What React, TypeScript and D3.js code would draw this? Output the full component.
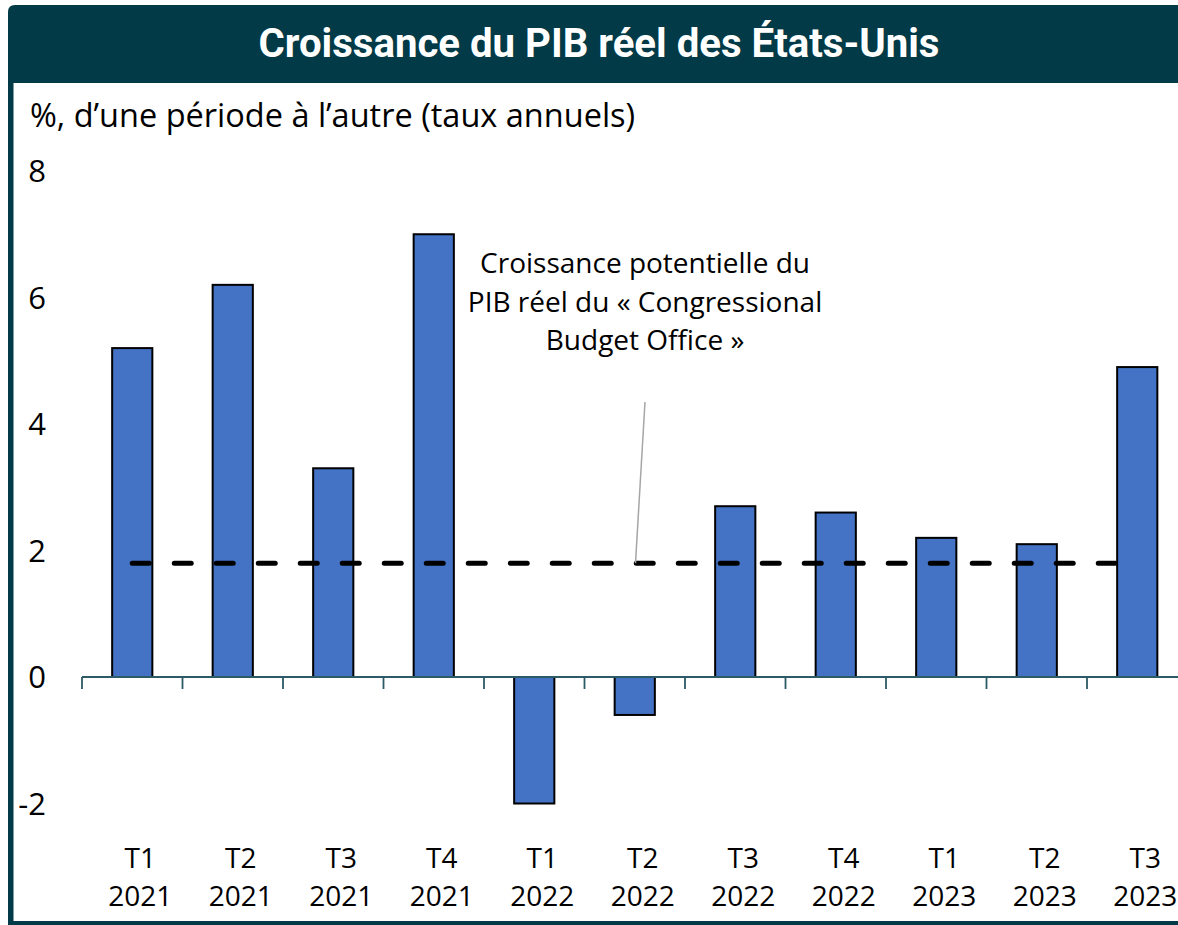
import React from "react";
import * as d3 from "d3";

const categories = ["T1 2021", "T2 2021", "T3 2021", "T4 2021", "T1 2022", "T2 2022", "T3 2022", "T4 2022", "T1 2023", "T2 2023", "T3 2023"];
const quarterLabels = ["T1", "T2", "T3", "T4", "T1", "T2", "T3", "T4", "T1", "T2", "T3"];
const yearLabels = ["2021", "2021", "2021", "2021", "2022", "2022", "2022", "2022", "2023", "2023", "2023"];
const gdpGrowth = [5.2, 6.2, 3.3, 7.0, -2.0, -0.6, 2.7, 2.6, 2.2, 2.1, 4.9];
const cboPotential = [1.8, 1.8, 1.8, 1.8, 1.8, 1.8, 1.8, 1.8, 1.8, 1.8, 1.8];
const yTicks = [8, 6, 4, 2, 0, -2];

const TITLE = "Croissance du PIB réel des États-Unis";
const SUBTITLE = "%, d\u2019une période à l\u2019autre (taux annuels)";
const ANNOT = ["Croissance potentielle du", "PIB réel du « Congressional", "Budget Office »"];

const W = 1178;
const H = 925;
const DARK = "#023a47";
const FONT = "'Open Sans', 'Noto Sans', sans-serif";

export default function App() {
  const step = 100.5;
  const x0 = 82;
  const x = d3
    .scaleBand<string>()
    .domain(categories)
    .range([x0, x0 + step * categories.length])
    .paddingInner(0.6)
    .paddingOuter(0.3);
  const y = d3.scaleLinear().domain([-2, 8]).range([803.5, 171]);

  const bw = x.bandwidth();
  const st = x.step();
  const cx = (c: string) => (x(c) as number) + bw / 2;

  const line = d3
    .line<number>()
    .x((_, i) => cx(categories[i]))
    .y((d) => y(d));

  const boundaries = categories.map((c) => (x(c) as number) - st * 0.3);
  boundaries.push(boundaries[boundaries.length - 1] + st);

  return (
    <svg
      width={W}
      height={H}
      style={{ position: "absolute", left: 0, top: 0, background: "#fff" }}
      fontFamily={FONT}
    >
      {/* title bar */}
      <path d={`M8,${83} L8,12 Q8,5 15,5 L${W},5 L${W},83 Z`} fill={DARK} />
      <text
        x={599}
        y={57}
        textAnchor="middle"
        fill="#fff"
        fontFamily="Roboto, sans-serif"
        fontWeight={700}
        fontSize={40}
        textLength={681}
        lengthAdjust="spacingAndGlyphs"
      >
        {TITLE}
      </text>
      {/* frame */}
      <rect x={8} y={83} width={5.5} height={H - 83} fill={DARK} />
      <rect x={8} y={921} width={W - 8} height={4} fill={DARK} />

      {/* subtitle */}
      <text x={30} y={127} fontSize={32.5} fill="#000">
        {SUBTITLE}
      </text>

      {/* y tick labels */}
      {yTicks.map((t) => (
        <text key={t} x={46} y={y(t) + 11} textAnchor="end" fontSize={31} fill="#000">
          {t}
        </text>
      ))}

      {/* bars */}
      {gdpGrowth.map((v, i) => (
        <rect
          key={categories[i]}
          x={x(categories[i])}
          y={Math.min(y(v), y(0))}
          width={bw}
          height={Math.abs(y(v) - y(0))}
          fill="#4472C4"
          stroke="#000"
          strokeWidth={2}
        />
      ))}

      {/* x axis */}
      <line x1={x0} x2={W} y1={y(0)} y2={y(0)} stroke="#2c5a66" strokeWidth={1.8} />
      {boundaries.map((b, i) => (
        <line key={i} x1={b} x2={b} y1={y(0)} y2={y(0) + 12} stroke="#2c5a66" strokeWidth={1.8} />
      ))}

      {/* dashed potential line */}
      <path
        d={line(cboPotential) || ""}
        fill="none"
        stroke="#000"
        strokeWidth={5}
        strokeDasharray="17 25"
        strokeLinecap="round"
      />

      {/* annotation */}
      {ANNOT.map((t, i) => (
        <text key={i} x={645} y={273 + i * 38.5} textAnchor="middle" fontSize={28} fill="#000">
          {t}
        </text>
      ))}
      <line x1={645} y1={402} x2={635.5} y2={y(1.8)} stroke="#a6a6a6" strokeWidth={1.5} />

      {/* x labels */}
      {categories.map((c, i) => (
        <g key={c}>
          <text x={cx(c) + 8} y={868} textAnchor="middle" fontSize={28} fill="#000">
            {quarterLabels[i]}
          </text>
          <text x={cx(c) + 8} y={906} textAnchor="middle" fontSize={28} fill="#000">
            {yearLabels[i]}
          </text>
        </g>
      ))}
    </svg>
  );
}
